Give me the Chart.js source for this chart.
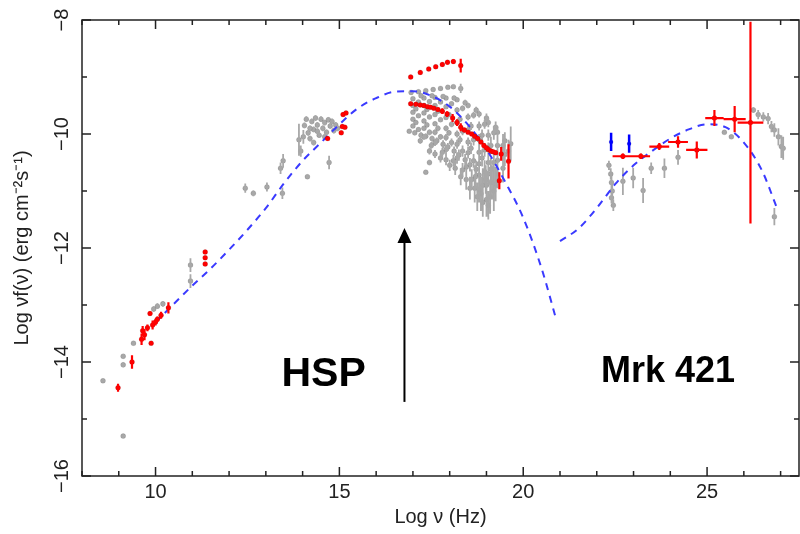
<!DOCTYPE html>
<html>
<head>
<meta charset="utf-8">
<script src="https://cdn.jsdelivr.net/npm/chart.js@4.4.0/dist/chart.umd.min.js"></script>
<style>
  html, body { margin: 0; padding: 0; background: #fff; }
</style>
</head>
<body>
<canvas id="sed" width="800" height="534"></canvas>
<script>
// rows are [log nu, log nuFnu, y error, x error]
const grayRadio = [
  [8.57, -14.33, 0], [9.12, -13.9, 0.04], [9.12, -14.05, 0.04], [9.12, -15.3, 0],
  [9.4, -13.67, 0], [9.95, -13.07, 0.05], [10.05, -13.02, 0.05], [10.2, -12.98, 0.05],
  [10.95, -12.3, 0.12], [10.95, -12.58, 0.12]
];
const grayOptical = [
  [12.44, -10.95, 0.08], [12.66, -11.04, 0.05], [13.03, -10.93, 0.08], [13.45, -11.04, 0.1],
  [13.4, -10.6, 0.1], [13.47, -10.47, 0.12], [13.9, -10.1, 0.28], [13.95, -10.3, 0.1],
  [14.13, -10.75, 0], [14.72, -10.5, 0.12],
  [14.05, -9.85, 0.05], [14.1, -9.74, 0.05], [14.15, -9.98, 0.05], [14.25, -9.78, 0.05],
  [14.3, -9.92, 0.05], [14.35, -9.72, 0.05], [14.4, -9.84, 0.05], [14.45, -10.02, 0.05],
  [14.5, -9.74, 0.05], [14.55, -9.9, 0.05], [14.6, -9.8, 0.05], [14.65, -9.97, 0.05],
  [14.7, -9.75, 0.05], [14.75, -9.86, 0.05], [14.8, -9.78, 0.05], [14.85, -9.94, 0.05],
  [14.9, -9.84, 0.05], [14.95, -9.9, 0.05], [14.2, -10.08, 0.05], [14.02, -10.05, 0.12],
  [14.2, -9.9, 0.05], [14.4, -9.95, 0.05], [14.6, -10.05, 0.05], [14.3, -10.15, 0.05]
];
const grayXray = [
  [16.95, -9.27, 0.02], [17.15, -9.26, 0.02], [17.35, -9.24, 0.02], [17.55, -9.22, 0.02],
  [17.75, -9.2, 0.02], [17.95, -9.18, 0.03], [18.1, -9.17, 0.03], [18.3, -9.2, 0.08],
  [17.0, -9.38, 0.03], [17.3, -9.37, 0.03], [17.6, -9.36, 0.03], [17.9, -9.37, 0.03],
  [18.2, -9.4, 0.04], [18.5, -9.5, 0.05], [18.8, -9.65, 0.06], [19.05, -9.8, 0.08],
  [19.3, -9.97, 0.1], [19.5, -10.12, 0.15], [19.66, -10.17, 0.3],
  [17.22, -9.33, 0.03], [17.52, -9.33, 0.03], [17.82, -9.34, 0.03], [18.12, -9.37, 0.04],
  [18.42, -9.45, 0.05], [18.72, -9.58, 0.06], [19.0, -9.72, 0.08], [19.25, -9.88, 0.1],
  [17.15, -9.44, 0.03], [17.45, -9.43, 0.03], [17.75, -9.44, 0.03], [18.05, -9.47, 0.04],
  [18.35, -9.55, 0.05], [18.65, -9.67, 0.06], [18.95, -9.83, 0.08], [19.2, -9.98, 0.12],
  [19.45, -10.2, 0.2],
  [17.0, -9.5, 0.03], [17.3, -9.5, 0.03], [17.6, -9.5, 0.03], [17.9, -9.52, 0.04],
  [18.2, -9.58, 0.05], [18.5, -9.7, 0.06], [18.8, -9.86, 0.08], [19.05, -10.02, 0.1],
  [19.3, -10.2, 0.15], [19.5, -10.36, 0.2],
  [17.08, -9.56, 0.03], [17.38, -9.57, 0.03], [17.68, -9.6, 0.04], [17.98, -9.66, 0.04],
  [18.28, -9.74, 0.05], [18.58, -9.86, 0.07], [18.88, -10.02, 0.1], [19.12, -10.2, 0.15],
  [17.0, -9.62, 0.03], [17.3, -9.63, 0.03], [17.6, -9.66, 0.04], [17.9, -9.71, 0.04],
  [18.2, -9.8, 0.05], [18.5, -9.93, 0.07], [18.8, -10.1, 0.1], [19.05, -10.27, 0.12],
  [19.3, -10.46, 0.2],
  [17.15, -9.68, 0.03], [17.45, -9.7, 0.04], [17.75, -9.75, 0.04], [18.05, -9.83, 0.05],
  [18.35, -9.95, 0.07], [18.65, -10.1, 0.1], [18.95, -10.28, 0.12], [19.2, -10.5, 0.2],
  [17.0, -9.74, 0.03], [17.3, -9.77, 0.04], [17.6, -9.82, 0.04], [17.9, -9.9, 0.05],
  [18.2, -10.0, 0.06], [18.5, -10.14, 0.08], [18.8, -10.32, 0.12], [19.05, -10.5, 0.15],
  [19.3, -10.7, 0.25],
  [17.08, -9.8, 0.03], [17.38, -9.84, 0.04], [17.68, -9.9, 0.05], [17.98, -9.98, 0.05],
  [18.28, -10.1, 0.07], [18.58, -10.25, 0.1], [18.88, -10.42, 0.15], [19.12, -10.62, 0.2],
  [17.0, -9.86, 0.03], [17.3, -9.9, 0.04], [17.6, -9.97, 0.05], [17.9, -10.06, 0.06],
  [18.2, -10.18, 0.08], [18.5, -10.33, 0.1], [18.8, -10.52, 0.15], [19.05, -10.7, 0.2],
  [19.25, -10.88, 0.3],
  [17.15, -9.92, 0.04], [17.45, -9.97, 0.05], [17.75, -10.05, 0.05], [18.05, -10.15, 0.07],
  [18.35, -10.3, 0.1], [18.65, -10.47, 0.12], [18.95, -10.66, 0.2], [19.15, -10.85, 0.3],
  [17.05, -9.98, 0.04], [17.35, -10.04, 0.05], [17.65, -10.12, 0.06], [17.95, -10.23, 0.07],
  [18.25, -10.37, 0.1], [18.55, -10.54, 0.12], [18.8, -10.72, 0.18], [19.0, -10.9, 0.25],
  [19.2, -11.0, 0.35],
  [17.22, -10.02, 0.05], [17.52, -10.08, 0.05], [17.82, -10.18, 0.07], [18.12, -10.3, 0.08],
  [18.42, -10.45, 0.1], [18.72, -10.62, 0.15], [18.98, -10.8, 0.25],
  [17.3, -10.05, 0.05], [17.6, -10.15, 0.06], [17.9, -10.27, 0.08], [18.2, -10.42, 0.1],
  [18.45, -10.58, 0.15], [18.7, -10.75, 0.2], [18.9, -10.9, 0.3],
  [17.2, -10.12, 0.05], [17.5, -10.2, 0.06], [17.8, -10.32, 0.08], [18.1, -10.47, 0.1],
  [18.35, -10.63, 0.12], [18.6, -10.8, 0.18], [18.8, -10.98, 0.22], [19.0, -11.15, 0.3],
  [17.45, -10.3, 0.06], [17.75, -10.42, 0.08], [18.0, -10.55, 0.1], [18.3, -10.75, 0.15],
  [18.55, -10.95, 0.2], [18.75, -11.1, 0.25], [18.9, -11.2, 0.25], [19.1, -11.1, 0.3],
  [17.6, -10.35, 0.07], [17.9, -10.45, 0.1], [18.15, -10.6, 0.12], [18.45, -10.8, 0.18],
  [18.68, -10.95, 0.25], [18.85, -11.05, 0.3], [19.05, -11.25, 0.25],
  [19.6, -10.3, 0.2], [19.45, -10.6, 0.25],
  [16.9, -9.95, 0], [17.35, -10.67, 0], [17.45, -10.5, 0.05]
];
const grayGamma = [
  [22.33, -10.55, 0.08], [22.38, -10.7, 0.1], [22.4, -10.85, 0.12], [22.42, -11.0, 0.12],
  [22.4, -11.12, 0.1], [22.45, -11.25, 0.1], [22.71, -10.83, 0.24], [22.99, -10.77, 0.18],
  [23.26, -10.99, 0.22], [23.48, -10.6, 0.1], [23.84, -10.6, 0.17], [24.21, -10.41, 0.13],
  [25.47, -9.97, 0.03], [25.66, -10.05, 0.03], [26.26, -9.58, 0.05], [26.39, -9.66, 0.08],
  [26.53, -9.7, 0.08], [26.66, -9.73, 0.1], [26.75, -9.87, 0.1], [26.83, -9.93, 0.12],
  [26.94, -10.05, 0.15], [27.02, -10.22, 0.2], [27.07, -10.25, 0.2], [26.83, -11.45, 0.15]
];
const redRadio = [
  [8.98, -14.45, 0.07], [9.36, -14.0, 0.12], [9.62, -13.6, 0.1], [9.65, -13.45, 0.08],
  [9.7, -13.52, 0.1], [9.78, -13.4, 0.06], [9.85, -13.15, 0.03], [9.88, -13.67, 0.03],
  [9.92, -13.35, 0.08], [10.0, -13.3, 0.06], [10.05, -13.25, 0.05], [10.15, -13.18, 0.06],
  [10.35, -13.05, 0.1], [11.35, -12.07, 0.02], [11.35, -12.17, 0.02], [11.35, -12.28, 0.02]
];
const redOptical = [
  [14.68, -10.08, 0.03], [15.05, -9.98, 0.03], [15.08, -9.87, 0.03], [15.15, -9.88, 0.03],
  [15.1, -9.66, 0.03], [15.18, -9.63, 0.03]
];
const redXrayHigh = [
  [16.94, -9.0, 0.02], [17.2, -8.92, 0.02], [17.43, -8.86, 0.02], [17.62, -8.82, 0.02],
  [17.8, -8.78, 0.03], [17.94, -8.74, 0.04], [18.1, -8.73, 0.04], [18.3, -8.8, 0.12]
];
const redXrayLow = [
  [16.94, -9.47, 0.02], [17.08, -9.48, 0.02], [17.2, -9.49, 0.02], [17.3, -9.5, 0.02],
  [17.4, -9.52, 0.02], [17.48, -9.53, 0.02], [17.57, -9.55, 0.03], [17.68, -9.57, 0.03],
  [17.8, -9.6, 0.05], [17.93, -9.65, 0.05], [18.08, -9.72, 0.07], [18.2, -9.8, 0.06],
  [18.3, -9.88, 0.07], [18.4, -9.93, 0.04], [18.5, -9.97, 0.03], [18.6, -10.0, 0.03],
  [18.68, -10.04, 0.03], [18.76, -10.08, 0.03], [18.85, -10.14, 0.03], [18.93, -10.2, 0.04],
  [19.0, -10.24, 0.03], [19.05, -10.27, 0.03], [19.12, -10.3, 0.03], [19.18, -10.31, 0.03],
  [19.25, -10.33, 0.04], [19.4, -10.35, 0.12], [19.35, -10.82, 0.15], [19.6, -10.48, 0.3]
];
const redGamma = [
  [22.71, -10.39, 0.05, 0.28], [23.2, -10.39, 0.05, 0.25], [23.7, -10.22, 0.06, 0.27],
  [24.21, -10.14, 0.1, 0.27], [24.72, -10.28, 0.15, 0.29], [25.2, -9.72, 0.14, 0.25],
  [25.75, -9.74, 0.23, 0.3], [26.18, -9.8, 1.77, 0.35]
];
const blueGamma = [[22.39, -10.14, 0.16], [22.88, -10.17, 0.16]];

// model curves
const syncX = [10.0, 10.5, 11.0, 11.5, 12.0, 12.5, 13.0, 13.5, 14.0, 14.5, 15.0, 15.5,
  16.0, 16.5, 17.0, 17.5, 18.0, 18.5, 19.0, 19.5, 20.0, 20.5, 20.9];
const syncY = [-13.3, -12.98, -12.66, -12.36, -12.03, -11.68, -11.3, -10.86, -10.47, -10.15,
  -9.83, -9.55, -9.37, -9.26, -9.25, -9.33, -9.52, -9.84, -10.27, -10.83, -11.47, -12.36, -13.26];
const icX = [21.0, 21.5, 22.0, 22.5, 23.0, 23.5, 24.0, 24.5, 25.0, 25.5, 26.0, 26.5, 26.9];
const icY = [-11.88, -11.66, -11.3, -10.88, -10.55, -10.3, -10.08, -9.92, -9.83, -9.88,
  -10.15, -10.65, -11.3];

const labels = [
  { text: 'HSP', x: 14.57, y: -14.23, size: 41 },
  { text: 'Mrk 421', x: 23.94, y: -14.18, size: 36 }
];
const arrow = { x: 16.77, from: -14.7, to: -11.65 };

const pts = rows => rows.map(r => ({ x: r[0], y: r[1], ey: r[2] || 0, ex: r[3] || 0 }));
const line = (xs, ys) => xs.map((x, i) => ({ x: x, y: ys[i] }));
const minus = v => String(v).replace('-', '\u2212');

const errorBars = {
  id: 'errorBars',
  afterDatasetDraw(chart, args) {
    const ds = chart.data.datasets[args.index];
    if (!ds.errColor) return;
    const { ctx, scales: { x, y } } = chart;
    ctx.save();
    ctx.strokeStyle = ds.errColor;
    ctx.lineWidth = ds.errWidth;
    ctx.beginPath();
    ds.data.forEach(p => {
      const px = x.getPixelForValue(p.x), py = y.getPixelForValue(p.y);
      if (p.ey) {
        ctx.moveTo(px, y.getPixelForValue(p.y - p.ey));
        ctx.lineTo(px, y.getPixelForValue(p.y + p.ey));
      }
      if (p.ex) {
        ctx.moveTo(x.getPixelForValue(p.x - p.ex), py);
        ctx.lineTo(x.getPixelForValue(p.x + p.ex), py);
      }
    });
    ctx.stroke();
    ctx.restore();
  }
};

const frame = {
  id: 'frame',
  afterDraw(chart) {
    const { ctx, chartArea: a, scales: { x, y } } = chart;
    ctx.save();
    ctx.strokeStyle = '#222';
    ctx.lineWidth = 1.5;
    ctx.strokeRect(a.left, a.top, a.right - a.left, a.bottom - a.top);
    ctx.beginPath();
    x.ticks.forEach(t => {
      const px = x.getPixelForValue(t.value);
      const len = t.value % 5 === 0 ? 9 : 5;
      ctx.moveTo(px, a.bottom); ctx.lineTo(px, a.bottom - len);
      ctx.moveTo(px, a.top); ctx.lineTo(px, a.top + len);
    });
    y.ticks.forEach(t => {
      const py = y.getPixelForValue(t.value);
      const len = t.value % 2 === 0 ? 9 : 5;
      ctx.moveTo(a.left, py); ctx.lineTo(a.left + len, py);
      ctx.moveTo(a.right, py); ctx.lineTo(a.right - len, py);
    });
    ctx.stroke();

    // arrow
    const ax = x.getPixelForValue(arrow.x);
    const ay0 = y.getPixelForValue(arrow.from), ay1 = y.getPixelForValue(arrow.to);
    ctx.strokeStyle = '#000';
    ctx.lineWidth = 2;
    ctx.beginPath();
    ctx.moveTo(ax, ay0); ctx.lineTo(ax, ay1 + 12);
    ctx.stroke();
    ctx.fillStyle = '#000';
    ctx.beginPath();
    ctx.moveTo(ax, ay1); ctx.lineTo(ax - 7, ay1 + 15); ctx.lineTo(ax + 7, ay1 + 15);
    ctx.closePath();
    ctx.fill();

    // labels
    ctx.textAlign = 'center';
    ctx.textBaseline = 'middle';
    labels.forEach(l => {
      ctx.font = 'bold ' + l.size + 'px "Liberation Sans", Arial, sans-serif';
      ctx.fillText(l.text, x.getPixelForValue(l.x), y.getPixelForValue(l.y));
    });
    ctx.restore();
  }
};

const font = { family: '"Liberation Sans", Arial, sans-serif', size: 20 };

new Chart(document.getElementById('sed'), {
  type: 'scatter',
  data: {
    datasets: [
      {
        data: pts(blueGamma), backgroundColor: '#0000ff', pointRadius: 2,
        errColor: '#0000ff', errWidth: 2.5
      },
      {
        data: pts([...redRadio, ...redOptical, ...redXrayHigh, ...redXrayLow, ...redGamma]),
        backgroundColor: '#ff0000', pointRadius: 2.5,
        errColor: '#ff0000', errWidth: 2.2
      },
      {
        type: 'line', data: line(syncX, syncY), borderColor: '#3a3aff', borderWidth: 2,
        borderDash: [7, 6], pointRadius: 0, fill: false, cubicInterpolationMode: 'monotone'
      },
      {
        type: 'line', data: line(icX, icY), borderColor: '#3a3aff', borderWidth: 2,
        borderDash: [7, 6], pointRadius: 0, fill: false, cubicInterpolationMode: 'monotone'
      },
      {
        data: pts([...grayRadio, ...grayOptical, ...grayXray, ...grayGamma]),
        backgroundColor: '#a8a8a8', pointRadius: 2.5,
        errColor: '#a8a8a8', errWidth: 1.8
      }
    ]
  },
  options: {
    responsive: false,
    animation: false,
    layout: { autoPadding: false, padding: { top: 20, right: 1, left: 0, bottom: 0 } },
    plugins: { legend: { display: false }, tooltip: { enabled: false } },
    scales: {
      x: {
        type: 'linear', min: 8, max: 27.5,
        afterFit: s => { s.height = 58; },
        grid: { display: false, drawTicks: false },
        border: { display: false },
        ticks: {
          stepSize: 1, includeBounds: false, autoSkip: false, maxRotation: 0,
          padding: 4, color: '#222', font: font,
          callback: v => (v % 5 === 0 ? minus(v) : '')
        },
        title: {
          display: true, text: 'Log \u03bd (Hz)', color: '#222', font: font,
          padding: { top: 0, bottom: 5 }
        }
      },
      y: {
        type: 'linear', min: -16, max: -8,
        afterFit: s => { s.width = 82; },
        grid: { display: false, drawTicks: false },
        border: { display: false },
        ticks: {
          stepSize: 1, includeBounds: false, autoSkip: false,
          minRotation: 90, maxRotation: 90, crossAlign: 'center',
          padding: 3, color: '#222', font: font,
          callback: v => (v % 2 === 0 ? minus(v) : '')
        },
        title: {
          display: true, text: 'Log \u03bdf(\u03bd) (erg cm\u207b\u00b2s\u207b\u00b9)',
          color: '#222', font: font, padding: { top: 10, bottom: 0 }
        }
      }
    }
  },
  plugins: [errorBars, frame]
});
</script>
</body>
</html>
